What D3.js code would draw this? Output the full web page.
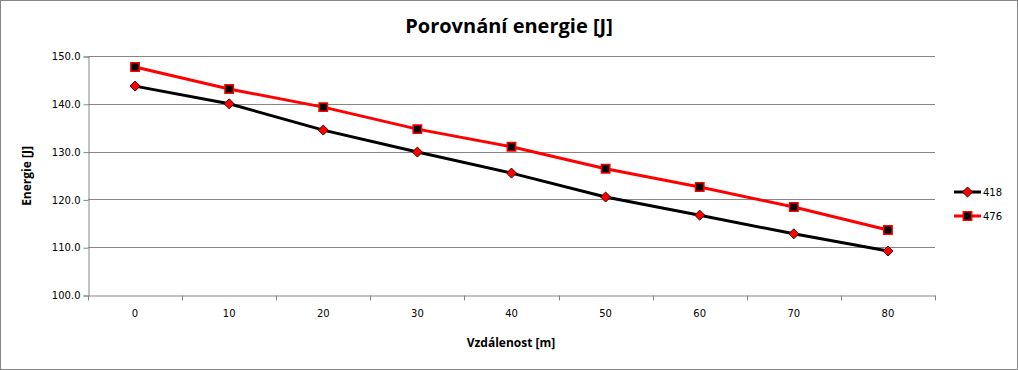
<!DOCTYPE html>
<html>
<head>
<meta charset="utf-8">
<script src="https://cdn.jsdelivr.net/npm/d3@7"></script>
<style>
  body { margin: 0; background: #fff; }
  svg { display: block; }
  .tick text { font-family: "DejaVu Sans", Verdana, sans-serif; font-size: 10px; fill: #000; }
  .title { font-family: "Open Sans", "Liberation Sans", sans-serif; font-weight: bold; }
</style>
</head>
<body>
<div id="chart"></div>
<script>
const distances = [0, 10, 20, 30, 40, 50, 60, 70, 80];
const energy418 = [143.7, 140.0, 134.5, 129.9, 125.5, 120.5, 116.7, 112.8, 109.2];
const energy476 = [147.7, 143.1, 139.3, 134.7, 131.0, 126.4, 122.6, 118.4, 113.6];
const yTicks = [100, 110, 120, 130, 140, 150];

const width = 1018;
const height = 370;
const margin = { top: 56, right: 83, bottom: 75, left: 88 };
const grey = "#868686";

const svg = d3.select("#chart").append("svg")
  .attr("width", width)
  .attr("height", height);

svg.append("rect")
  .attr("x", 0.5).attr("y", 0.5)
  .attr("width", width - 1).attr("height", height - 1)
  .attr("fill", "#fff").attr("stroke", grey);

const x = d3.scaleBand()
  .domain(distances)
  .range([margin.left, width - margin.right]);

const y = d3.scaleLinear()
  .domain([100, 150])
  .range([height - margin.bottom, margin.top]);

// gridlines
svg.append("g")
  .selectAll("line")
  .data(yTicks.slice(1))
  .join("line")
  .attr("x1", margin.left).attr("x2", width - margin.right)
  .attr("y1", (d) => Math.round(y(d)) + 0.5)
  .attr("y2", (d) => Math.round(y(d)) + 0.5)
  .attr("stroke", grey);

// y axis
svg.append("g")
  .attr("transform", `translate(${margin.left + 0.5},0.5)`)
  .call(d3.axisLeft(y).tickValues(yTicks).tickFormat(d3.format(".1f")).tickSize(5).tickPadding(3));

// x axis with ticks on band boundaries
const xAxis = svg.append("g")
  .attr("transform", `translate(0,${height - margin.bottom + 0.5})`)
  .call(d3.axisBottom(x).tickSize(0).tickPadding(14));

xAxis.selectAll(".bound")
  .data(d3.range(distances.length + 1))
  .join("line")
  .attr("class", "bound")
  .attr("x1", (i) => Math.round(margin.left + i * x.step()) + 0.5)
  .attr("x2", (i) => Math.round(margin.left + i * x.step()) + 0.5)
  .attr("y1", 0).attr("y2", 5)
  .attr("stroke", grey);

svg.selectAll(".domain").attr("stroke", grey);
svg.selectAll(".tick line").attr("stroke", grey);

const cx = (d) => x(d) + x.bandwidth() / 2;

const line = (vals) => d3.line()
  .x((d, i) => cx(distances[i]))
  .y((d) => y(d))(vals);

const diamond = d3.symbol().type(d3.symbolDiamond2).size(64);
const square = d3.symbol().type(d3.symbolSquare2).size(90);

const series = [
  { name: "418", values: energy418, line: "#000", fill: "#f00", stroke: "#400", sw: 1, symbol: diamond },
  { name: "476", values: energy476, line: "#f00", fill: "#000", stroke: "#f00", sw: 1.5, symbol: square },
];

series.forEach((s) => {
  svg.append("path")
    .attr("d", line(s.values))
    .attr("fill", "none")
    .attr("stroke", s.line)
    .attr("stroke-width", 3);

  svg.append("g")
    .selectAll("path")
    .data(s.values)
    .join("path")
    .attr("transform", (d, i) => `translate(${cx(distances[i])},${y(d)})`)
    .attr("d", s.symbol)
    .attr("fill", s.fill)
    .attr("stroke", s.stroke)
    .attr("stroke-width", s.sw);
});

// legend
const legend = svg.append("g").attr("transform", "translate(954,192)");
series.forEach((s, i) => {
  const g = legend.append("g").attr("transform", `translate(0,${i * 24})`);
  g.append("line").attr("x1", 0).attr("x2", 27).attr("stroke", s.line).attr("stroke-width", 3);
  g.append("path").attr("transform", "translate(13.5,0)").attr("d", s.symbol)
    .attr("fill", s.fill).attr("stroke", s.stroke).attr("stroke-width", s.sw);
  g.append("text").attr("x", 29).attr("dy", "0.35em")
    .attr("font-family", "DejaVu Sans, Verdana, sans-serif").attr("font-size", 10)
    .text(s.name);
});

// titles
svg.append("text").attr("class", "title")
  .attr("x", 509).attr("y", 33)
  .attr("text-anchor", "middle").attr("font-size", 20)
  .text("Porovnání energie [J]");

svg.append("text").attr("class", "title")
  .attr("x", 511).attr("y", 347)
  .attr("text-anchor", "middle").attr("font-size", 12)
  .text("Vzdálenost [m]");

svg.append("text").attr("class", "title")
  .attr("transform", "translate(31,176) rotate(-90)")
  .attr("text-anchor", "middle").attr("font-size", 12)
  .text("Energie [J]");
</script>
</body>
</html>
